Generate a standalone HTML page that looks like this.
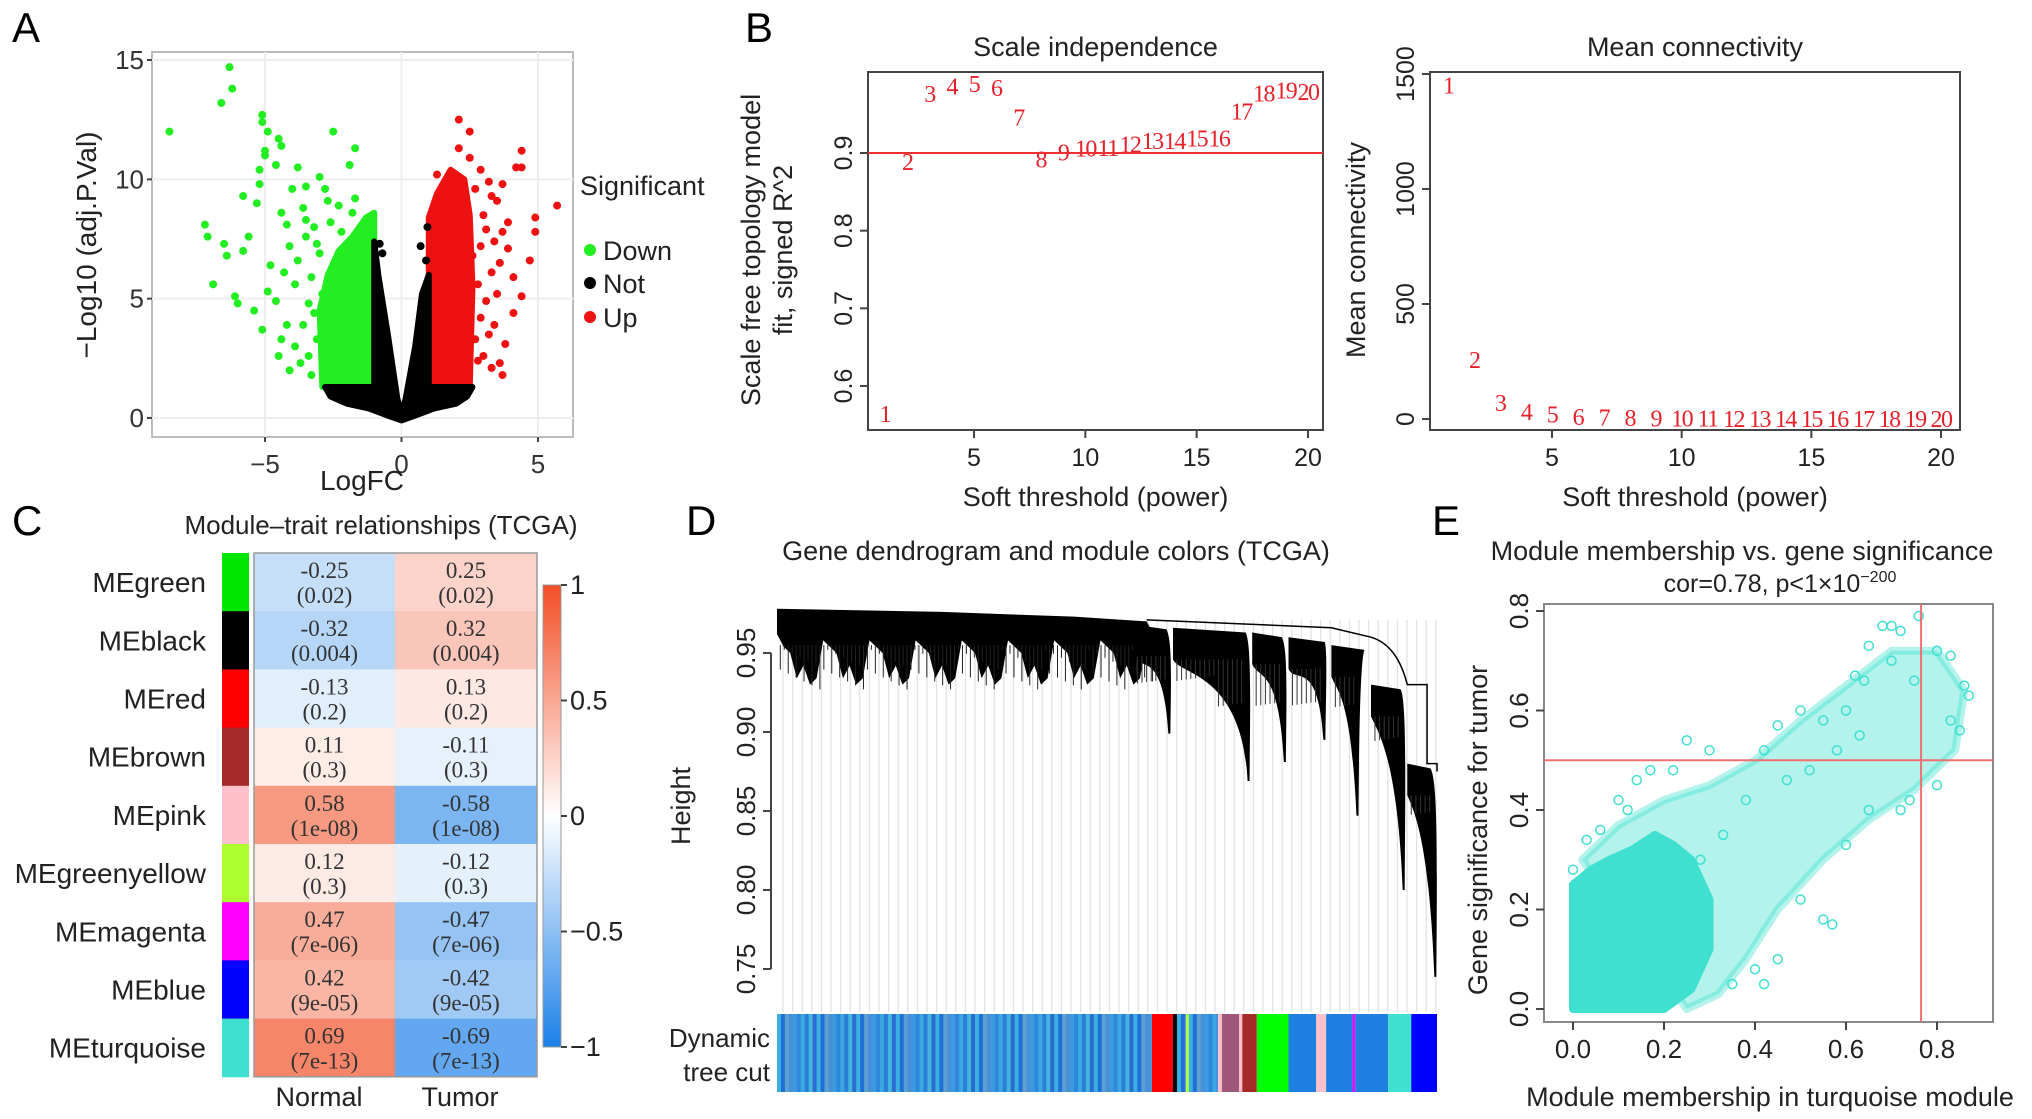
<!DOCTYPE html>
<html><head><meta charset="utf-8"><style>
html,body{margin:0;padding:0;background:#fff}
svg{display:block;font-family:"Liberation Sans",sans-serif}
.serif{font-family:"Liberation Serif",serif}
</style></head><body>
<svg id="fig" width="2032" height="1119" viewBox="0 0 2032 1119" xmlns="http://www.w3.org/2000/svg">
<g id="gA"></g>
<g id="gB1"></g>
<g id="gB2"></g>
<g id="gC"></g>
<g id="gD"></g>
<g id="gE"></g>
</svg>
<script>
// ---------- Panel A data ----------
const volcDownPts=[[-8.5,12],[-6.3,14.7],[-6.2,13.8],[-6.6,13.2],[-5.1,12.7],[-5.1,12.4],[-4.9,12],[-2.5,12],[-4.5,11.7],[-4.4,11.4],[-5,11.2],[-5,11],[-1.7,11.3],[-1.9,10.6],[-4.6,10.6],[-3.8,10.5],[-5.2,10.4],[-3,10.1],[-5.2,9.8],[-3.5,9.7],[-4,9.6],[-5.8,9.3],[-2.7,9.1],[-1.7,9.2],[-5.3,9],[-4.4,8.6],[-3.5,8.3],[-7.2,8.1],[-7.1,7.6],[-5.6,7.6],[-6.5,7.3],[-5.8,7],[-6.4,6.8],[-4.8,6.4],[-4.3,6.1],[-6.9,5.6],[-4.9,5.3],[-6.1,5.1],[-6,4.8],[-5.4,4.5],[-5.1,3.7],[-4.2,3.9],[-4.5,2.6],[-4.1,2],[-3.4,2.6],[-3.7,2.3],[-4.4,3.3],[-3.2,4.4],[-3.9,5.6],[-4.1,7.2],[-3.6,8.8],[-2.6,8.2],[-2.2,7.8],[-3,6.9],[-1.8,8.6],[-2.9,5.2],[-3.1,3.3],[-3.3,1.8],[-3.5,7.6],[-3.8,6.6],[-3.3,5.9],[-4.6,4.9],[-3.6,3.9],[-3.9,3],[-2.8,9.6],[-2.3,8.9],[-3.2,8],[-4.2,8.1],[-3.1,7.3],[-3.4,4.8]];
const volcUpPts=[[2.1,12.5],[2.5,12],[2.1,11.3],[4.4,11.2],[2.5,10.9],[4.2,10.5],[4.4,10.5],[1.3,10.2],[3.2,9.9],[3.7,9.8],[5.7,8.9],[4.9,8.4],[4.9,7.8],[3.9,8.2],[4.7,6.6],[3.3,6.1],[4.1,5.9],[4.4,5.1],[3.5,5.2],[3.8,3.1],[3.6,2.3],[3.7,1.8],[3,2.6],[3.2,3.5],[2.9,4.2],[3.4,7.4],[3,8.5],[2.7,9.6],[3.5,9.1],[3.9,7.1],[4.1,4.4],[3.3,2.1],[2.7,3.3],[2.6,6.8],[3.1,7.9],[2.8,5.6],[2.9,10.4],[3.3,9.3],[2.9,7.2],[3.6,6.5],[3.1,4.9],[2.8,2.4],[3.4,3.9],[3.7,7.8]];
const volcNotPts=[[0.95,8],[-0.8,7.3],[0.7,7.2],[0.9,6.6],[-0.7,6.9]];
const downCore=[[-2.9,1.3],[-3,4.5],[-2.7,6],[-2.3,7],[-1.8,7.6],[-1.3,8.4],[-1,8.6],[-1,1.3]];
const upCore=[[1,1.3],[1,8.4],[1.3,9.4],[1.8,10.4],[2.3,10],[2.5,8.5],[2.6,5.5],[2.5,1.3]];
const notCore=[[-2.8,1.3],[-1,1.3],[-1,7.4],[-0.85,6],[-0.5,3.5],[-0.15,0.8],[0,0.2],[0.15,0.8],[0.5,3],[0.75,5.2],[1,6],[1,1.3],[2.6,1.3],[2.4,0.9],[2,0.6],[1.2,0.4],[0.5,0.1],[0,-0.1],[-0.5,0.1],[-1.2,0.4],[-2,0.6],[-2.6,0.9]];
const aXTicks=[-5,0,5], aYTicks=[0,5,10,15];
// ---------- Panel B data ----------
const powers=[1,2,3,4,5,6,7,8,9,10,11,12,13,14,15,16,17,18,19,20];
const sftR2=[0.565,0.89,0.977,0.987,0.99,0.985,0.947,0.893,0.902,0.907,0.908,0.912,0.917,0.917,0.92,0.92,0.955,0.978,0.982,0.98];
const meanK=[1455,261,74,34,23,14,10,8,7,6,6,5,5,5,5,5,5,5,5,5];
const b1YTicks=[0.6,0.7,0.8,0.9], bXTicks=[5,10,15,20], b2YTicks=[0,500,1000,1500];
// ---------- Panel C data ----------
const modules=["MEgreen","MEblack","MEred","MEbrown","MEpink","MEgreenyellow","MEmagenta","MEblue","MEturquoise"];
const moduleColors=["#00e600","#000000","#ff0000","#a52a2a","#ffc0cb","#adff2f","#ff00ff","#0000ff","#40e0d0"];
const corNormal=[-0.25,-0.32,-0.13,0.11,0.58,0.12,0.47,0.42,0.69];
const corTumor=[0.25,0.32,0.13,-0.11,-0.58,-0.12,-0.47,-0.42,-0.69];
const pvals=["0.02","0.004","0.2","0.3","1e-08","0.3","7e-06","9e-05","7e-13"];
const traits=["Normal","Tumor"];
const cbTicks=[1,0.5,0,-0.5,-1];
// ---------- Panel D data ----------
const dYTicks=[0.75,0.8,0.85,0.9,0.95];
// clusters: [start leaf frac, end leaf frac, merge height, tip frac, tip height]
const dClusters=[[0.54,0.6,0.968,0.595,0.899],[0.6,0.72,0.966,0.715,0.869],[0.72,0.775,0.963,0.77,0.881],[0.775,0.84,0.96,0.83,0.895],[0.84,0.9,0.955,0.88,0.847],[0.9,0.955,0.93,0.95,0.80],[0.955,1.0,0.88,0.998,0.745]];
const barSegs=[["mix",0,0.568],["#ff0000",0.568,0.6],["#000000",0.6,0.606],["mix",0.606,0.62],["#adff2f",0.62,0.624],["mix",0.624,0.668],["#ffc0cb",0.668,0.674],["#a0587a",0.674,0.7],["#ffc0cb",0.7,0.705],["#a52a2a",0.705,0.727],["#00ff00",0.727,0.775],["#1e7fe0",0.775,0.817],["#ffc0cb",0.817,0.832],["#1e7fe0",0.832,0.872],["#ff00ff",0.872,0.876],["#1e7fe0",0.876,0.926],["#40e0d0",0.926,0.961],["#0000ff",0.961,1]];
const mixColors=["#3ab0e0","#2a7fd8","#3a9be0","#1f6fd6","#45b4dc","#2f88db","#5aa0d0","#2a6cd0","#3ca8e2","#4a90d8"];
// ---------- Panel E data ----------
const gsCore=[[0,0],[0,0.25],[0.04,0.28],[0.08,0.3],[0.13,0.32],[0.18,0.35],[0.22,0.33],[0.26,0.3],[0.3,0.22],[0.3,0.12],[0.26,0.04],[0.2,0]];
const gsMid=[[0.02,0.3],[0.1,0.37],[0.2,0.42],[0.3,0.45],[0.4,0.5],[0.5,0.58],[0.6,0.65],[0.7,0.72],[0.8,0.72],[0.86,0.64],[0.84,0.52],[0.75,0.44],[0.65,0.38],[0.55,0.3],[0.45,0.2],[0.38,0.1],[0.32,0.03],[0.25,0]];
const gsPts=[[0.68,0.77],[0.7,0.77],[0.72,0.76],[0.76,0.79],[0.65,0.73],[0.7,0.7],[0.8,0.72],[0.83,0.71],[0.86,0.65],[0.87,0.63],[0.62,0.67],[0.64,0.66],[0.75,0.66],[0.6,0.6],[0.55,0.58],[0.5,0.6],[0.45,0.57],[0.42,0.52],[0.25,0.54],[0.3,0.52],[0.22,0.48],[0.17,0.48],[0.14,0.46],[0.1,0.42],[0.12,0.4],[0.06,0.36],[0.03,0.34],[0.0,0.28],[0.02,0.24],[0.45,0.1],[0.4,0.08],[0.35,0.05],[0.42,0.05],[0.5,0.22],[0.55,0.18],[0.57,0.17],[0.6,0.33],[0.65,0.4],[0.72,0.4],[0.74,0.42],[0.8,0.45],[0.85,0.56],[0.83,0.58],[0.47,0.46],[0.38,0.42],[0.33,0.35],[0.28,0.3],[0.52,0.48],[0.58,0.52],[0.63,0.55]];
const eXTicks=[0,0.2,0.4,0.6,0.8], eYTicks=[0,0.2,0.4,0.6,0.8];
const eLineX=0.765, eLineY=0.5;

const NS="http://www.w3.org/2000/svg";
function mk(parent,tag,attrs,text){const e=document.createElementNS(NS,tag);for(const k in attrs)e.setAttribute(k,attrs[k]);if(text!==undefined)e.textContent=text;parent.appendChild(e);return e;}
function lin(d0,d1,r0,r1){return v=>r0+(v-d0)/(d1-d0)*(r1-r0);}
const svg=document.getElementById('fig');

[["A",12,42],["B",745,42],["C",12,535],["D",686,535],["E",1432,535]].forEach(l=>{
  const t=mk(svg,'text',{x:l[1],y:l[2],'font-size':42,fill:'#000'},l[0]);
  
  
});

// ---------- A ----------
(function(){
  const g=document.getElementById('gA');
  const L=152,R=573,T=52,B=437;
  const x=lin(-5,5,265,538), y=lin(0,15,418,60);
  const bg=mk(g,'rect',{x:L,y:T,width:R-L,height:B-T,fill:'#fff',stroke:'#bbb','stroke-width':2});
  
  aXTicks.forEach(v=>{mk(g,'line',{x1:x(v),x2:x(v),y1:T,y2:B,stroke:'#eee','stroke-width':2});});
  aYTicks.forEach(v=>{mk(g,'line',{x1:L,x2:R,y1:y(v),y2:y(v),stroke:'#eee','stroke-width':2});});
  function poly(arr,col,name){const p=mk(g,'polygon',{points:arr.map(d=>x(d[0])+','+y(d[1])).join(' '),fill:col,stroke:col,'stroke-width':6,'stroke-linejoin':'round'});}
  poly(downCore,'#22ee22','down-dense-points');poly(upCore,'#ee1111','up-dense-points');poly(notCore,'#000','not-dense-points');
  function pts(arr,col,name){arr.forEach(d=>{const c=mk(g,'circle',{cx:x(d[0]),cy:y(d[1]),r:4,fill:col});});}
  pts(volcDownPts,'#22ee22','down-point');pts(volcUpPts,'#ee1111','up-point');pts(volcNotPts,'#000','not-point');
  aXTicks.forEach(v=>{mk(g,'line',{x1:x(v),x2:x(v),y1:B,y2:B+5,stroke:'#444','stroke-width':2});const t=mk(g,'text',{x:x(v),y:B+36,'font-size':26,'text-anchor':'middle',fill:'#333'},v<0?'\u2212'+(-v):v);});
  aYTicks.forEach(v=>{mk(g,'line',{x1:L-5,x2:L,y1:y(v),y2:y(v),stroke:'#444','stroke-width':2});const t=mk(g,'text',{x:L-8,y:y(v)+9,'font-size':26,'text-anchor':'end',fill:'#333'},v);});
  const xt=mk(g,'text',{x:362,y:490,'font-size':28,'text-anchor':'middle',fill:'#222'},'LogFC');
  const yt=mk(g,'text',{x:0,y:0,'font-size':28,'text-anchor':'middle',fill:'#222',transform:'translate(96,245) rotate(-90)'},'\u2212Log10 (adj.P.Val)');
  const lt=mk(g,'text',{x:580,y:195,'font-size':27,fill:'#222'},'Significant');
  [["Down","#22ee22",250],["Not","#000",283],["Up","#ee1111",317]].forEach(e=>{
    const lg=mk(g,'g',{});
    mk(lg,'circle',{cx:590,cy:e[2],r:6,fill:e[1]});mk(lg,'text',{x:603,y:e[2]+10,'font-size':27,fill:'#222'},e[0]);
  });
})();

// ---------- B ----------
function bPanel(gid,L,R,T,B,xs,ys,vals,yTicks,title,ytitle,yfmt){
  const g=document.getElementById(gid);
  const f=mk(g,'rect',{x:L,y:T,width:R-L,height:B-T,fill:'none',stroke:'#444','stroke-width':2});
  bXTicks.forEach(v=>{mk(g,'line',{x1:xs(v),x2:xs(v),y1:B,y2:B+8,stroke:'#444','stroke-width':2});const t=mk(g,'text',{x:xs(v),y:B+36,'font-size':25,'text-anchor':'middle',fill:'#222'},v);});
  yTicks.forEach(v=>{mk(g,'line',{x1:L-8,x2:L,y1:ys(v),y2:ys(v),stroke:'#444','stroke-width':2});const t=mk(g,'text',{x:0,y:0,'font-size':25,'text-anchor':'middle',fill:'#222',transform:'translate('+(L-16)+','+ys(v)+') rotate(-90)'},yfmt(v));});
  const tt=mk(g,'text',{x:(L+R)/2,y:56,'font-size':27,'text-anchor':'middle',fill:'#222'},title);
  const xt=mk(g,'text',{x:(L+R)/2,y:506,'font-size':27,'text-anchor':'middle',fill:'#222'},'Soft threshold (power)');
  ytitle.forEach((s,i)=>{const t=mk(g,'text',{x:0,y:0,'font-size':27,'text-anchor':'middle',fill:'#222',transform:'translate('+s[1]+',250) rotate(-90)'},s[0]);});
  powers.forEach((p,i)=>{const t=mk(g,'text',{x:xs(p),y:ys(vals[i])+9,'font-size':24,'text-anchor':'middle',fill:'#e8202a','class':'serif','letter-spacing':'-1.5'},p);});
  return g;
}
(function(){
  const xs=lin(5,20,974,1308), ys=lin(0.6,0.9,386,153);
  const g=bPanel('gB1',868,1323,72,430,xs,ys,sftR2,b1YTicks,'Scale independence',[['Scale free topology model',760],['fit, signed R^2',792]],v=>v.toFixed(1));
  const l=mk(g,'line',{x1:868,x2:1323,y1:ys(0.9),y2:ys(0.9),stroke:'#f03030','stroke-width':2});
})();
(function(){
  const xs=lin(5,20,1552,1941), ys=lin(0,1500,419,74);
  bPanel('gB2',1430,1960,72,430,xs,ys,meanK,b2YTicks,'Mean connectivity',[['Mean connectivity',1365]],v=>v);
})();

// ---------- C ----------
(function(){
  const g=document.getElementById('gC');
  const X0=254,XM=395,X1=537,T=553,RH=58.2;
  function col(v){const a=Math.min(1,Math.abs(v));let e=v>=0?[242,78,38]:[28,128,232];return 'rgb('+e.map(c=>Math.round(255+(c-255)*a)).join(',')+')';}
  const tt=mk(g,'text',{x:381,y:534,'font-size':26,'text-anchor':'middle',fill:'#222'},'Module\u2013trait relationships (TCGA)');
  modules.forEach((m,i)=>{
    const y=T+i*RH;
    const s=mk(g,'rect',{x:222,y:y,width:27,height:RH+0.5,fill:moduleColors[i]});
    const lb=mk(g,'text',{x:206,y:y+RH/2+10,'font-size':28,'text-anchor':'end',fill:'#222'},m);
    [[corNormal[i],X0,XM],[corTumor[i],XM,X1]].forEach(c=>{
      const r=mk(g,'rect',{x:c[1],y:y,width:c[2]-c[1]+0.5,height:RH+0.5,fill:col(c[0])});
      const cx=(c[1]+c[2])/2;
      const t1=mk(g,'text',{x:cx,y:y+25,'font-size':23,'text-anchor':'middle',fill:'#333','class':'serif'},c[0].toFixed(2));
      const t2=mk(g,'text',{x:cx,y:y+50,'font-size':23,'text-anchor':'middle',fill:'#333','class':'serif'},'('+pvals[i]+')');
    });
  });
  mk(g,'rect',{x:X0,y:T,width:X1-X0,height:RH*9,fill:'none',stroke:'#999','stroke-width':1.5});
  traits.forEach((t,i)=>{const e=mk(g,'text',{x:[319,460][i],y:1106,'font-size':27,'text-anchor':'middle',fill:'#222'},t);});
  const cy=lin(1,-1,585,1047);
  const defs=mk(g,'defs',{});const lg=mk(defs,'linearGradient',{id:'cbg',x1:0,y1:0,x2:0,y2:1});
  [1,0.5,0,-0.5,-1].forEach((v,i)=>mk(lg,'stop',{offset:i/4,'stop-color':col(v)}));
  const cb=mk(g,'rect',{x:543,y:585,width:18,height:462,fill:'url(#cbg)',stroke:'#999','stroke-width':1});
  cbTicks.forEach(v=>{mk(g,'line',{x1:561,x2:567,y1:cy(v),y2:cy(v),stroke:'#444','stroke-width':2});const t=mk(g,'text',{x:570,y:cy(v)+9,'font-size':27,fill:'#222'},v<0?'\u2212'+(-v):v);});
})();

// ---------- D ----------
(function(){
  const g=document.getElementById('gD');
  const L=777,R=1437, y=lin(0.75,0.95,969,653), fx=lin(0,1,L,R);
  const tt=mk(g,'text',{x:1056,y:560,'font-size':27,'text-anchor':'middle',fill:'#222'},'Gene dendrogram and module colors (TCGA)');
  for(let xx=L+6;xx<R;xx+=9.6){mk(g,'line',{x1:xx,x2:xx,y1:620,y2:1012,stroke:'#e2e2e2','stroke-width':1.3});}
  // main left mass (jagged)
  let pts=[[0,0.978],[0.25,0.976],[0.45,0.973],[0.56,0.97],[0.58,0.955]];
  for(let f=0.57;f>0;f-=0.01){const k=Math.round(f*100)%7;pts.push([f,0.958-0.004*k-(k===3?0.012:0)-(k===5?0.008:0)]);}
  pts.push([0,0.962]);
  const mass=mk(g,'polygon',{points:pts.map(d=>fx(d[0])+','+y(d[1])).join(' '),fill:'#000'});
  
  for(let f=0.005;f<0.57;f+=0.006){const k=Math.round(f*1000)%11;mk(g,'line',{x1:fx(f),x2:fx(f),y1:y(0.955),y2:y(0.952-0.0025*k),stroke:'#222','stroke-width':1});}
  dClusters.forEach((c,i)=>{
    const p=mk(g,'path',{d:'M'+fx(c[0])+','+y(c[2])+' L'+fx(c[1]-0.01)+','+y(c[2]-0.003)+' C'+fx(c[3]+0.004)+','+y(c[2]-0.01)+' '+fx(c[3]+0.002)+','+y((c[2]+c[4])/2)+' '+fx(c[3]+0.001)+','+y(c[4])+' L'+fx(c[3]-0.002)+','+y(c[4])+' C'+fx(c[3]-0.01)+','+y((c[2]+c[4])/2+0.02)+' '+fx(c[0]+0.01)+','+y(c[2]-0.03)+' '+fx(c[0])+','+y(c[2]-0.02)+'Z',fill:'#000'});
    
    for(let f=c[0]+0.006;f<c[3]-0.004;f+=0.007){mk(g,'line',{x1:fx(f),x2:fx(f),y1:y(c[2]-0.02),y2:y(c[2]-0.03-((f*997)%1)*0.02),stroke:'#333','stroke-width':1});}
  });
  mk(g,'path',{d:'M'+fx(0.56)+','+y(0.971)+' L'+fx(0.84)+','+y(0.966)+' L'+fx(0.9)+','+y(0.96)+' Q'+fx(0.94)+','+y(0.955)+' '+fx(0.955)+','+y(0.93)+' L'+fx(0.985)+','+y(0.93)+' L'+fx(0.985)+','+y(0.88)+' L'+fx(1)+','+y(0.88)+' L'+fx(1)+','+y(0.875),fill:'none',stroke:'#000','stroke-width':1.5});
  dYTicks.forEach(v=>{mk(g,'line',{x1:L-14,x2:L-6,y1:y(v),y2:y(v),stroke:'#444','stroke-width':2});const t=mk(g,'text',{x:0,y:0,'font-size':26,'text-anchor':'middle',fill:'#222',transform:'translate('+(L-22)+','+y(v)+') rotate(-90)'},v.toFixed(2));});
  mk(g,'line',{x1:L-6,x2:L-6,y1:y(0.75),y2:y(0.95),stroke:'#444','stroke-width':2});
  const yt=mk(g,'text',{x:0,y:0,'font-size':27,'text-anchor':'middle',fill:'#222',transform:'translate(690,806) rotate(-90)'},'Height');
  barSegs.forEach(s=>{
    if(s[0]==='mix'){let k=0;for(let f=s[1];f<s[2];f+=0.006){mk(g,'rect',{x:fx(f),y:1014,width:Math.min(fx(s[2])-fx(f),4.5),height:78,fill:mixColors[k%mixColors.length]});k+=3;}}
    else{const r=mk(g,'rect',{x:fx(s[1]),y:1014,width:fx(s[2])-fx(s[1]),height:78,fill:s[0]});}
  });
  const t1=mk(g,'text',{x:770,y:1047,'font-size':26,'text-anchor':'end',fill:'#222'},'Dynamic');
  const t2=mk(g,'text',{x:770,y:1081,'font-size':26,'text-anchor':'end',fill:'#222'},'tree cut');
})();

// ---------- E ----------
(function(){
  const g=document.getElementById('gE');
  const L=1544,R=1993,T=604,B=1022;
  const x=lin(0,0.8,1573,1937), y=lin(0,0.8,1009,611);
  const f=mk(g,'rect',{x:L,y:T,width:R-L,height:B-T,fill:'none',stroke:'#888','stroke-width':2});
  function poly(arr,op,name){const p=mk(g,'polygon',{points:arr.map(d=>x(d[0])+','+y(d[1])).join(' '),fill:'#40e0d0','fill-opacity':op,stroke:'#40e0d0','stroke-opacity':op,'stroke-width':8,'stroke-linejoin':'round'});}
  poly(gsMid,0.4,'scatter-sparse-region');poly(gsCore,1,'scatter-dense-region');
  gsPts.forEach(d=>{const c=mk(g,'circle',{cx:x(d[0]),cy:y(d[1]),r:4.5,fill:'none',stroke:'#40e0d0','stroke-width':1.5});});
  const vl=mk(g,'line',{x1:x(eLineX),x2:x(eLineX),y1:T,y2:B,stroke:'#f07070','stroke-width':2});
  const hl=mk(g,'line',{x1:L,x2:R,y1:y(eLineY),y2:y(eLineY),stroke:'#f07070','stroke-width':2});
  eXTicks.forEach(v=>{mk(g,'line',{x1:x(v),x2:x(v),y1:B,y2:B+8,stroke:'#444','stroke-width':2});const t=mk(g,'text',{x:x(v),y:B+36,'font-size':26,'text-anchor':'middle',fill:'#222'},v.toFixed(1));});
  eYTicks.forEach(v=>{mk(g,'line',{x1:L-8,x2:L,y1:y(v),y2:y(v),stroke:'#444','stroke-width':2});const t=mk(g,'text',{x:0,y:0,'font-size':26,'text-anchor':'middle',fill:'#222',transform:'translate('+(L-16)+','+y(v)+') rotate(-90)'},v.toFixed(1));});
  const t1=mk(g,'text',{x:1742,y:560,'font-size':27,'text-anchor':'middle',fill:'#222'},'Module membership vs. gene significance');
  const t2=mk(g,'text',{x:1780,y:592,'font-size':25,'text-anchor':'middle',fill:'#222'});
  t2.textContent='cor=0.78, p<1\u00d710';mk(t2,'tspan',{dy:-10,'font-size':16},'\u2212200');
  const xt=mk(g,'text',{x:1770,y:1106,'font-size':27,'text-anchor':'middle',fill:'#222'},'Module membership in turquoise module');
  const yt=mk(g,'text',{x:0,y:0,'font-size':27,'text-anchor':'middle',fill:'#222',transform:'translate(1487,830) rotate(-90)'},'Gene significance for tumor');
})();
</script>
</body></html>
